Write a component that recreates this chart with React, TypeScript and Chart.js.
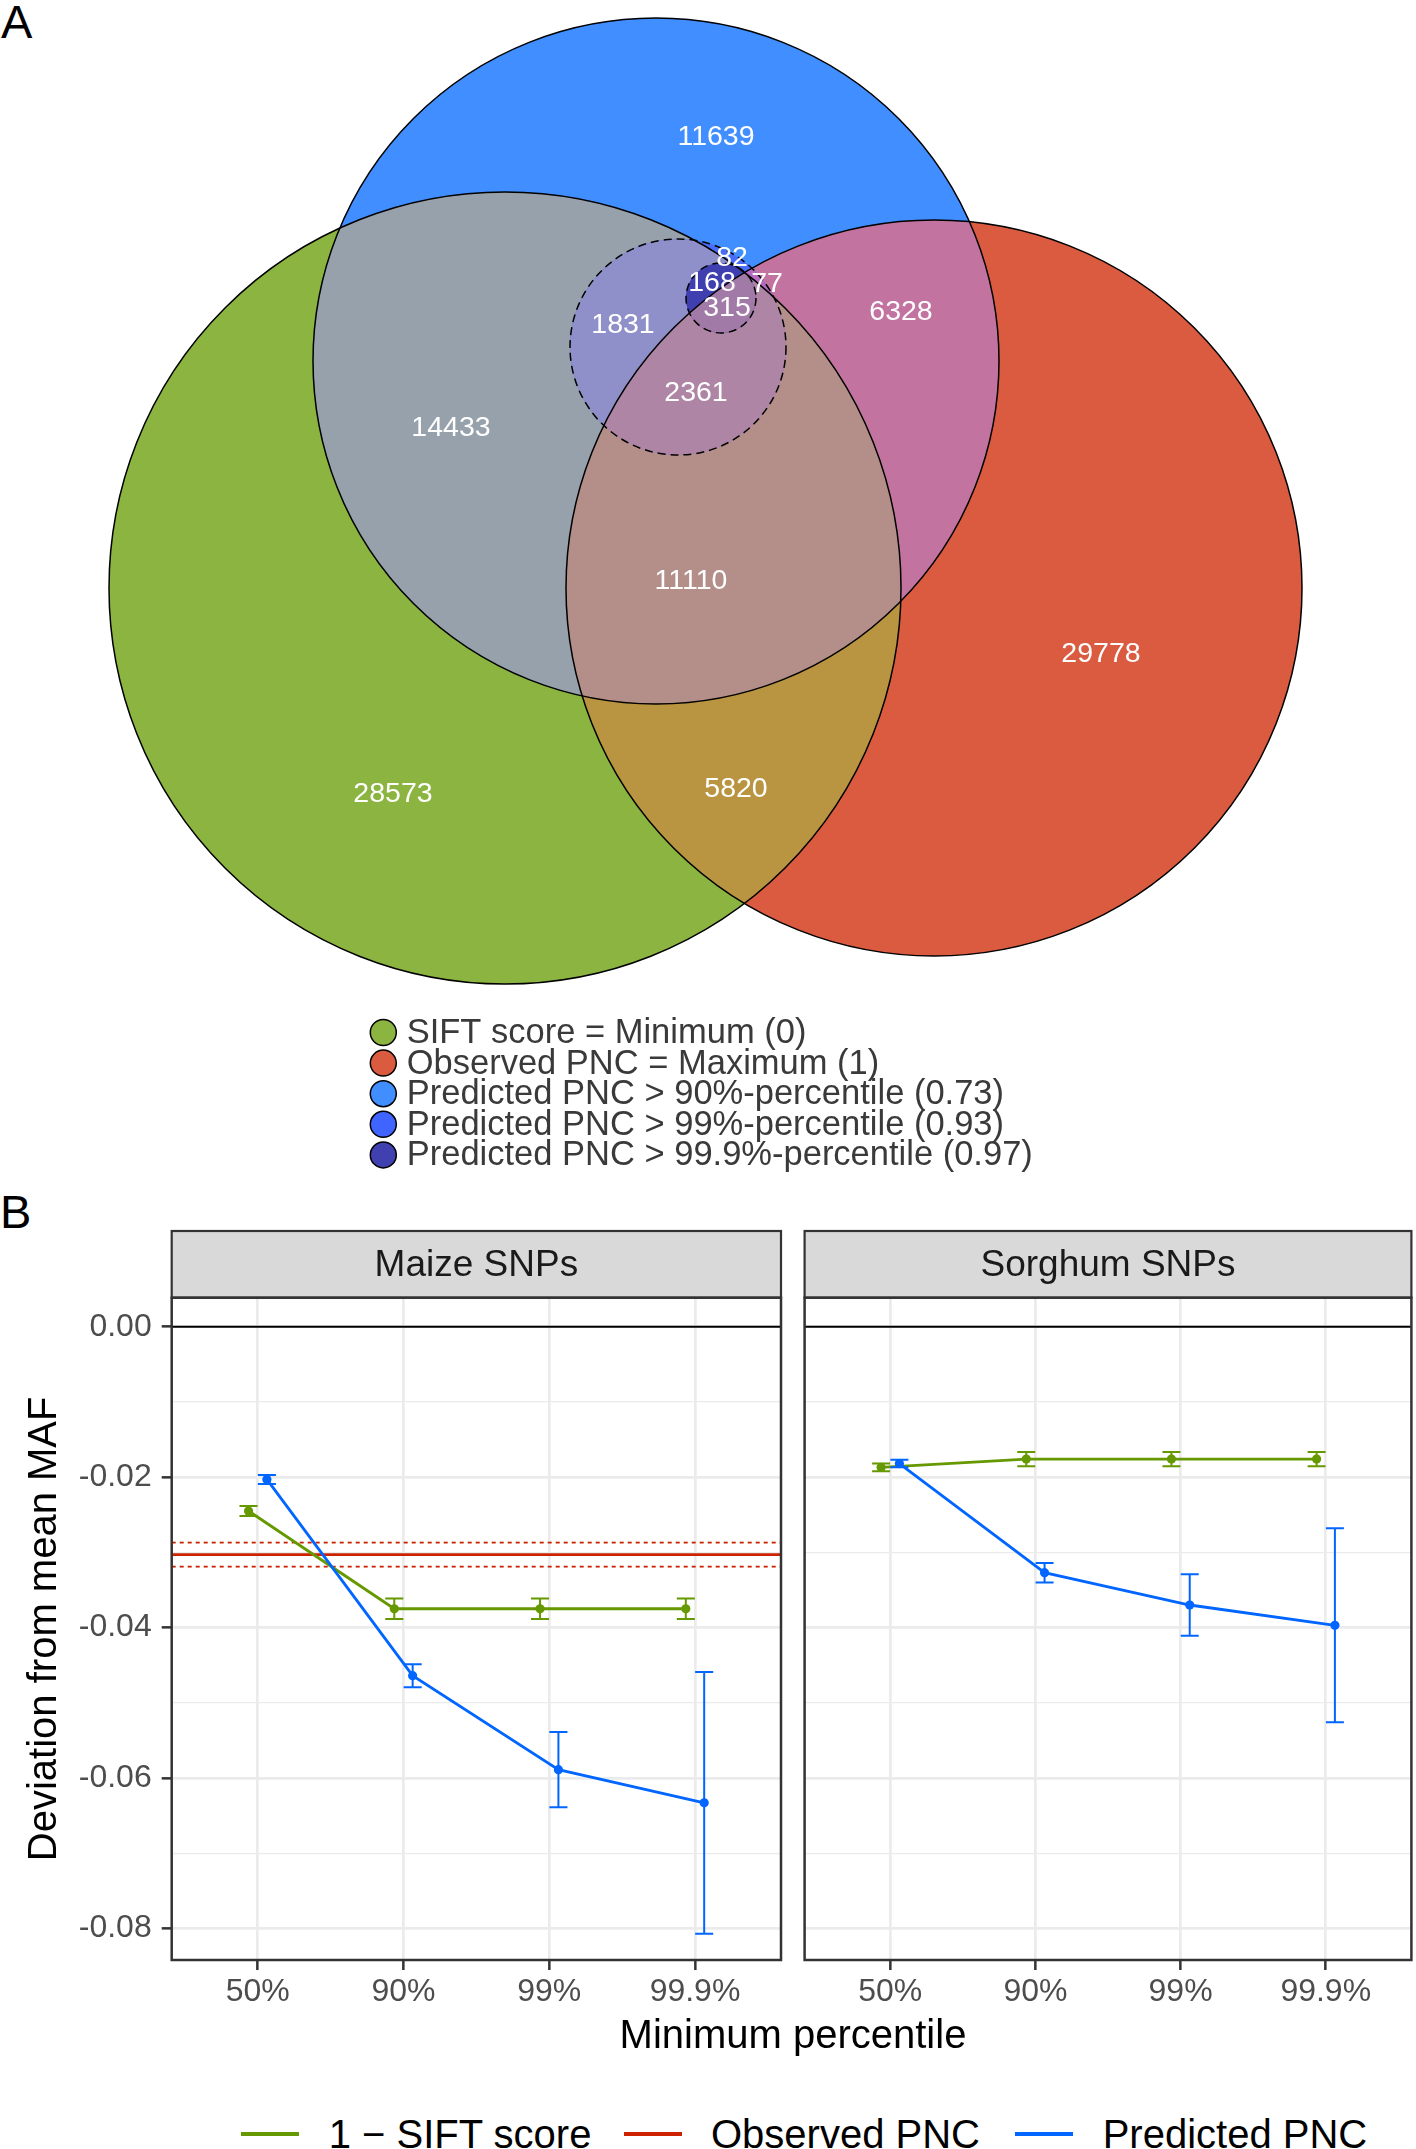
import React, { useEffect, useRef } from 'react';
import { Chart, registerables } from 'chart.js';

Chart.register(...registerables);

const FONT = '"Liberation Sans", Arial, Helvetica, sans-serif';

/* ---------------- Panel A : Venn diagram data ---------------- */
// sets: G = SIFT min, R = observed PNC max, B = predicted > 90%, D = predicted > 99%, S = predicted > 99.9%
const setKeys = ['G', 'R', 'B', 'D', 'S'];
const setLabels = [
  'SIFT score = Minimum (0)',
  'Observed PNC = Maximum (1)',
  'Predicted PNC > 90%-percentile (0.73)',
  'Predicted PNC > 99%-percentile (0.93)',
  'Predicted PNC > 99.9%-percentile (0.97)',
];
const setColors = ['#8BB440', '#DA5B40', '#408EFF', '#4064FF', '#4040B0'];
// circle geometry in venn units
const circleX = [50.5, 93.4, 65.6, 67.8, 72.1];
const circleY = [58.8, 58.8, 36.1, 34.7, 29.8];
const circleR = [39.6, 36.8, 34.3, 10.8, 3.5];
const circleDashed = [false, false, false, true, true];

// region membership and fill colour
const regionSets: string[][] = [
  ['G'], ['R'], ['B'],
  ['G', 'B'], ['B', 'R'], ['G', 'R'],
  ['G', 'B', 'R'],
  ['B', 'D'], ['G', 'B', 'D'], ['B', 'R', 'D'], ['G', 'B', 'R', 'D'],
  ['B', 'D', 'S'], ['G', 'B', 'D', 'S'], ['B', 'R', 'D', 'S'], ['G', 'B', 'R', 'D', 'S'],
];
const regionColors = [
  '#8BB440', '#DA5B40', '#408EFF',
  '#96A1AB', '#C2739F', '#B99441',
  '#B48F8A',
  '#4A6CF8', '#8F8FC9', '#B56BC1', '#AE85A4',
  '#4040B2', '#3F3FB0', '#7A4BB0', '#A27AA8',
];

// region counts and their label positions (venn units)
const countLabels = ['11639', '82', '168', '77', '315', '1831', '2361', '6328', '14433', '11110', '29778', '28573', '5820'];
const countX = [71.6, 73.2, 71.2, 76.7, 72.7, 62.3, 69.6, 90.1, 45.1, 69.1, 110.1, 39.3, 73.6];
const countY = [13.7, 25.8, 28.3, 28.4, 30.8, 32.5, 39.3, 31.2, 42.8, 58.1, 65.4, 79.4, 78.9];

const VENN_X_MAX = 141.6;
const VENN_Y_MAX = 118;

/* ---------------- Panel B : facet data ---------------- */
const xLabels = ['50%', '90%', '99%', '99.9%'];
const xPositions = [1, 2, 3, 4];
const facetNames = ['Maize SNPs', 'Sorghum SNPs'];
const seriesNames = ['1 \u2212 SIFT score', 'Observed PNC', 'Predicted PNC'];
const seriesColors = ['#669900', '#CC2200', '#0066FF'];

const maizeSift = [-0.0245, -0.0375, -0.0375, -0.0375];
const maizeSiftErr = [0.00065, 0.00135, 0.00135, 0.00135];
const maizePred = [-0.0203, -0.0464, -0.0589, -0.0633];
const maizePredErr = [0.0006, 0.00153, 0.005, 0.0174];
const maizeObs = -0.0303;
const maizeObsErr = 0.0016;

const sorghumSift = [-0.0187, -0.0176, -0.0176, -0.0176];
const sorghumSiftErr = [0.0005, 0.00096, 0.00096, 0.00096];
const sorghumPred = [-0.0182, -0.0327, -0.037, -0.0397];
const sorghumPredErr = [0.0005, 0.0013, 0.0041, 0.0129];

const yMajorTicks = [0, -0.02, -0.04, -0.06, -0.08];
const yTickLabels = ['0.00', '-0.02', '-0.04', '-0.06', '-0.08'];
const yMinorTicks = [-0.01, -0.03, -0.05, -0.07];

const X_MIN = 0.41;
const X_MAX = 4.59;
const Y_MIN = -0.0842;
const Y_MAX = 0.00386;
const DODGE = 0.063;
const CAP_HALF = 0.062;

/* ---------------- plugins ---------------- */
const pxRadius = (chart: any, r: number) => {
  const s = chart.scales.x;
  return Math.abs(s.getPixelForValue(r) - s.getPixelForValue(0));
};

const vennClipPlugin = {
  id: 'vennClip',
  beforeDatasetDraw(chart: any, args: any) {
    const ds = chart.data.datasets[args.index];
    const ctx = chart.ctx;
    ctx.save();
    const xs = chart.scales.x;
    const ys = chart.scales.y;
    (ds.clipTo || []).forEach((i: number) => {
      ctx.beginPath();
      ctx.arc(xs.getPixelForValue(circleX[i]), ys.getPixelForValue(circleY[i]), pxRadius(chart, circleR[i]), 0, Math.PI * 2);
      ctx.clip();
    });
    if (ds.dash) ctx.setLineDash(ds.dash);
  },
  afterDatasetDraw(chart: any) {
    chart.ctx.restore();
  },
};

const vennTextPlugin = {
  id: 'vennText',
  afterDatasetsDraw(chart: any) {
    const { ctx } = chart;
    const xs = chart.scales.x;
    const ys = chart.scales.y;
    ctx.save();
    ctx.fillStyle = '#FFFFFF';
    ctx.font = `28.5px ${FONT}`;
    ctx.textAlign = 'center';
    ctx.textBaseline = 'middle';
    countLabels.forEach((t, i) => {
      ctx.fillText(t, xs.getPixelForValue(countX[i]), ys.getPixelForValue(countY[i]));
    });
    // legend
    ctx.font = `34.5px ${FONT}`;
    ctx.textAlign = 'left';
    setLabels.forEach((label, i) => {
      const cy = 1032.5 + i * 30.6;
      ctx.beginPath();
      ctx.arc(383.3, cy, 13, 0, Math.PI * 2);
      ctx.fillStyle = setColors[i];
      ctx.fill();
      ctx.lineWidth = 1.5;
      ctx.strokeStyle = '#000000';
      ctx.stroke();
      ctx.fillStyle = '#3A3A3A';
      ctx.fillText(label, 406.7, cy + 1);
    });
    ctx.restore();
  },
};

const errorBarPlugin = {
  id: 'errorBars',
  beforeDatasetDraw(chart: any, args: any) {
    const ds = chart.data.datasets[args.index];
    if (!ds.err) return;
    const ys = chart.scales.y;
    const xs = chart.scales.x;
    const ctx = chart.ctx;
    ctx.save();
    ctx.strokeStyle = ds.borderColor;
    ctx.lineWidth = 2;
    ds.data.forEach((d: any, i: number) => {
      const e = ds.err[i];
      const x = xs.getPixelForValue(d.x);
      const xl = xs.getPixelForValue(d.x - CAP_HALF);
      const xr = xs.getPixelForValue(d.x + CAP_HALF);
      const y1 = ys.getPixelForValue(d.y + e);
      const y2 = ys.getPixelForValue(d.y - e);
      ctx.beginPath();
      ctx.moveTo(x, y1);
      ctx.lineTo(x, y2);
      ctx.moveTo(xl, y1);
      ctx.lineTo(xr, y1);
      ctx.moveTo(xl, y2);
      ctx.lineTo(xr, y2);
      ctx.stroke();
    });
    ctx.restore();
  },
};

const facetFramePlugin = {
  id: 'facetFrame',
  afterDraw(chart: any, _args: any, opts: any) {
    const { ctx, chartArea: a } = chart;
    const stripTop = opts.stripTop;
    ctx.save();
    ctx.fillStyle = '#D9D9D9';
    ctx.fillRect(a.left, stripTop, a.right - a.left, a.top - stripTop);
    ctx.strokeStyle = '#333333';
    ctx.lineWidth = 2.2;
    ctx.strokeRect(a.left, stripTop, a.right - a.left, a.top - stripTop);
    ctx.fillStyle = '#1A1A1A';
    ctx.font = `37px ${FONT}`;
    ctx.textAlign = 'center';
    ctx.textBaseline = 'middle';
    ctx.fillText(opts.title, (a.left + a.right) / 2, (stripTop + a.top) / 2 + 1);
    ctx.lineWidth = 2.5;
    ctx.strokeRect(a.left, a.top, a.right - a.left, a.bottom - a.top);
    ctx.restore();
  },
};

/* ---------------- components ---------------- */
function VennChart() {
  const ref = useRef<HTMLCanvasElement>(null);
  useEffect(() => {
    const ordered = regionSets
      .map((s, i) => ({ s, c: regionColors[i] }))
      .sort((a, b) => a.s.length - b.s.length);
    // radius in pixels from venn units (x axis spans the full canvas width)
    const radiusFn = (c: any) => {
      const raw = c.raw || (c.dataset && c.dataset.data && c.dataset.data[0]);
      const pxPerUnit = c.chart.width / VENN_X_MAX;
      return raw ? raw.rad * pxPerUnit : 3;
    };
    const regionDatasets = ordered.map((reg, k) => {
      const idxs = reg.s.map((key) => setKeys.indexOf(key));
      const main = idxs.reduce((a, b) => (circleR[a] <= circleR[b] ? a : b));
      return {
        label: reg.s.join('&'),
        data: [{ x: circleX[main], y: circleY[main], rad: circleR[main] }],
        backgroundColor: reg.c,
        borderColor: 'rgba(0,0,0,0)',
        borderWidth: 0,
        radius: radiusFn,
        hoverRadius: 0,
        clipTo: idxs.filter((i) => i !== main),
        order: 1000 - k,
      };
    });
    const outlineDatasets = circleX.map((x, i) => ({
      label: setLabels[i],
      data: [{ x, y: circleY[i], rad: circleR[i] }],
      backgroundColor: 'rgba(0,0,0,0)',
      borderColor: '#000000',
      borderWidth: 1.5,
      radius: radiusFn,
      hoverRadius: 0,
      dash: circleDashed[i] ? [8, 5] : null,
      order: 100 - i,
    }));
    const chart = new Chart(ref.current as HTMLCanvasElement, {
      type: 'bubble',
      data: { datasets: [...regionDatasets, ...outlineDatasets] as any },
      options: {
        animation: false,
        responsive: false,
        devicePixelRatio: 1,
        events: [],
        layout: { padding: 0, autoPadding: false },
        plugins: { legend: { display: false }, tooltip: { enabled: false } },
        scales: {
          x: { type: 'linear', min: 0, max: VENN_X_MAX, display: false },
          y: { type: 'linear', min: 0, max: VENN_Y_MAX, reverse: true, display: false },
        },
      } as any,
      plugins: [vennClipPlugin, vennTextPlugin],
    });
    return () => chart.destroy();
  }, []);
  return (
    <canvas
      ref={ref}
      width={1416}
      height={1180}
      style={{ position: 'absolute', left: 0, top: 0, width: 1416, height: 1180 }}
    />
  );
}

function FacetChart({ idx }: { idx: number }) {
  const ref = useRef<HTMLCanvasElement>(null);
  const isLeft = idx === 0;
  const left = isLeft ? 0 : 800;
  const width = isLeft ? 800 : 616;
  useEffect(() => {
    const sift = isLeft ? maizeSift : sorghumSift;
    const siftErr = isLeft ? maizeSiftErr : sorghumSiftErr;
    const pred = isLeft ? maizePred : sorghumPred;
    const predErr = isLeft ? maizePredErr : sorghumPredErr;
    const datasets: any[] = [
      {
        label: 'zero',
        data: [{ x: X_MIN, y: 0 }, { x: X_MAX, y: 0 }],
        borderColor: '#000000',
        borderWidth: 1.8,
        pointRadius: 0,
        order: 6,
      },
    ];
    if (isLeft) {
      [maizeObs + maizeObsErr, maizeObs - maizeObsErr].forEach((v) => {
        datasets.push({
          label: seriesNames[1] + ' CI',
          data: [{ x: X_MIN, y: v }, { x: X_MAX, y: v }],
          borderColor: seriesColors[1],
          borderWidth: 1.8,
          borderDash: [4, 4],
          pointRadius: 0,
          order: 5,
        });
      });
      datasets.push({
        label: seriesNames[1],
        data: [{ x: X_MIN, y: maizeObs }, { x: X_MAX, y: maizeObs }],
        borderColor: seriesColors[1],
        borderWidth: 2.6,
        pointRadius: 0,
        order: 4,
      });
    }
    datasets.push({
      label: seriesNames[0],
      data: sift.map((v, i) => ({ x: xPositions[i] - DODGE, y: v })),
      err: siftErr,
      borderColor: seriesColors[0],
      backgroundColor: seriesColors[0],
      pointBackgroundColor: seriesColors[0],
      borderWidth: 2.8,
      pointRadius: 4.6,
      pointBorderWidth: 0,
      order: 2,
    });
    datasets.push({
      label: seriesNames[2],
      data: pred.map((v, i) => ({ x: xPositions[i] + DODGE, y: v })),
      err: predErr,
      borderColor: seriesColors[2],
      backgroundColor: seriesColors[2],
      pointBackgroundColor: seriesColors[2],
      borderWidth: 2.8,
      pointRadius: 4.6,
      pointBorderWidth: 0,
      order: 1,
    });
    const isMajor = (v: number) => yMajorTicks.some((m) => Math.abs(m - v) < 1e-9);
    const chart = new Chart(ref.current as HTMLCanvasElement, {
      type: 'line',
      data: { datasets },
      options: {
        animation: false,
        responsive: false,
        devicePixelRatio: 1,
        events: [],
        layout: { padding: { top: 107.7, right: isLeft ? 19 : 2, left: 0, bottom: 0 } },
        plugins: {
          legend: { display: false },
          tooltip: { enabled: false },
          facetFrame: { title: facetNames[idx], stripTop: 41 },
        },
        scales: {
          x: {
            type: 'linear',
            bounds: 'data',
            min: X_MIN,
            max: X_MAX,
            afterBuildTicks: (s: any) => {
              s.ticks = xPositions.map((v) => ({ value: v }));
            },
            afterFit: (s: any) => {
              s.height = 60;
            },
            ticks: {
              callback: (v: any) => {
                const i = xPositions.indexOf(Number(v));
                return i >= 0 ? xLabels[i] : '';
              },
              font: { family: FONT, size: 32 },
              color: '#4D4D4D',
              padding: 3,
              autoSkip: false,
              maxRotation: 0,
            },
            grid: {
              color: '#EBEBEB',
              lineWidth: 2.7,
              tickColor: '#333333',
              tickWidth: 2.5,
              tickLength: 10,
              drawTicks: true,
            },
            border: { display: false },
          },
          y: {
            type: 'linear',
            bounds: 'data',
            min: Y_MIN,
            max: Y_MAX,
            afterBuildTicks: (s: any) => {
              s.ticks = [...yMajorTicks, ...yMinorTicks].sort((a, b) => a - b).map((v) => ({ value: v }));
            },
            afterFit: (s: any) => {
              s.width = isLeft ? 171.7 : 4.3;
            },
            ticks: {
              display: isLeft,
              callback: (v: any) => {
                const i = yMajorTicks.findIndex((m) => Math.abs(m - Number(v)) < 1e-9);
                return i >= 0 ? yTickLabels[i] : '';
              },
              font: { family: FONT, size: 32 },
              color: '#4D4D4D',
              padding: 10,
              autoSkip: false,
            },
            grid: {
              color: '#EBEBEB',
              lineWidth: (c: any) => (c.tick && isMajor(c.tick.value) ? 2.7 : 1.35),
              tickColor: (c: any) => (c.tick && isMajor(c.tick.value) ? '#333333' : 'rgba(0,0,0,0)'),
              tickWidth: 2.5,
              tickLength: 10,
              drawTicks: isLeft,
            },
            border: { display: false },
            title: {
              display: isLeft,
              text: 'Deviation from mean MAF',
              font: { family: FONT, size: 40 },
              color: '#000000',
              padding: { top: 21, bottom: 0 },
            },
          },
        },
      } as any,
      plugins: [errorBarPlugin, facetFramePlugin],
    });
    return () => chart.destroy();
  }, []);
  return (
    <canvas
      ref={ref}
      width={width}
      height={830}
      style={{ position: 'absolute', left, top: 1190, width, height: 830 }}
    />
  );
}

export default function App() {
  const legendKeyLeft = [240.7, 624, 1015];
  const legendTextLeft = [328.7, 711, 1102.7];
  return (
    <div
      style={{
        position: 'absolute',
        left: 0,
        top: 0,
        width: 1416,
        height: 2149,
        background: '#FFFFFF',
        overflow: 'hidden',
        fontFamily: FONT,
        color: '#000000',
      }}
    >
      <div style={{ position: 'absolute', left: 1, top: -2, fontSize: 47, lineHeight: '47px' }}>A</div>
      <VennChart />
      <div style={{ position: 'absolute', left: 0, top: 1188, fontSize: 47, lineHeight: '47px' }}>B</div>
      <FacetChart idx={0} />
      <FacetChart idx={1} />
      <div
        style={{
          position: 'absolute',
          left: 793,
          top: 2013.5,
          transform: 'translateX(-50%)',
          fontSize: 40,
          lineHeight: '40px',
          whiteSpace: 'nowrap',
        }}
      >
        Minimum percentile
      </div>
      {seriesNames.map((name, i) => (
        <React.Fragment key={name}>
          <div
            style={{
              position: 'absolute',
              left: legendKeyLeft[i],
              top: 2132,
              width: 58,
              height: 4,
              background: seriesColors[i],
            }}
          />
          <div
            style={{
              position: 'absolute',
              left: legendTextLeft[i],
              top: 2114,
              fontSize: 40,
              lineHeight: '40px',
              whiteSpace: 'nowrap',
            }}
          >
            {name}
          </div>
        </React.Fragment>
      ))}
    </div>
  );
}
